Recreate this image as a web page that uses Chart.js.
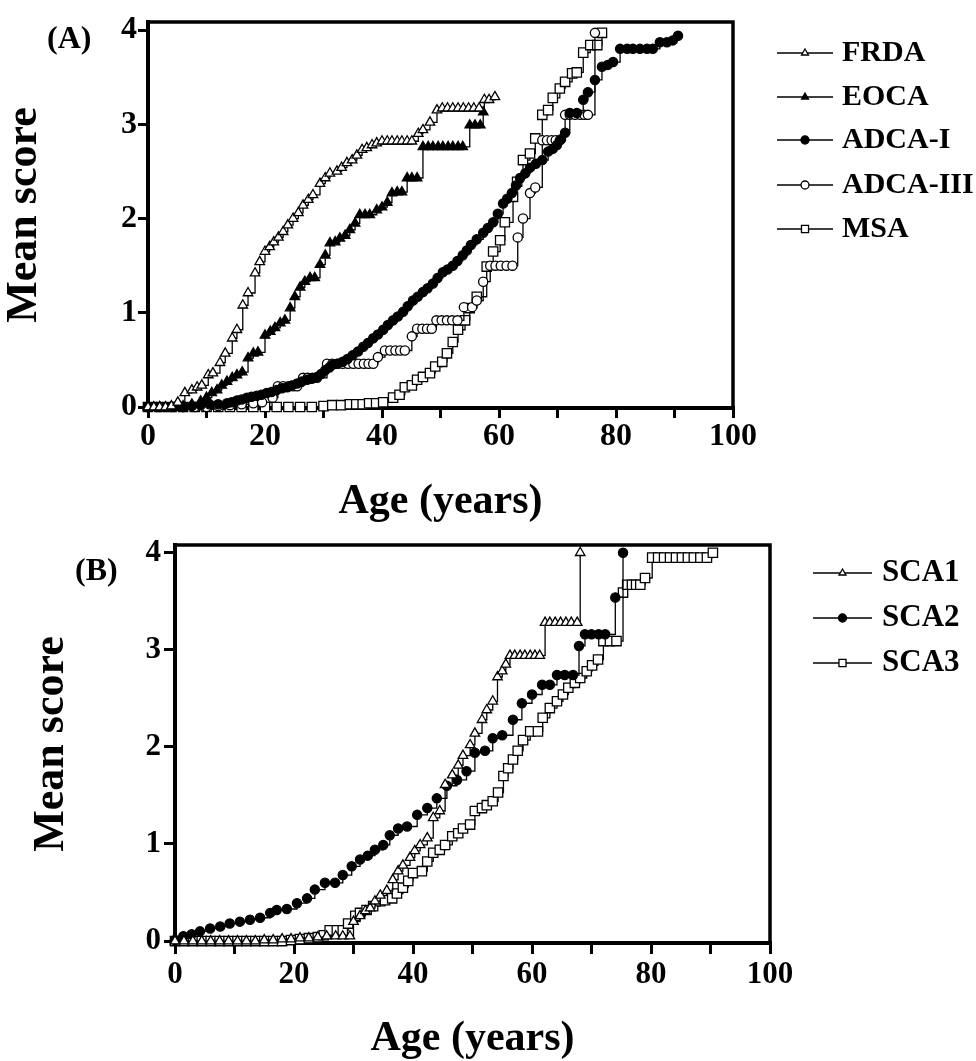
<!DOCTYPE html>
<html>
<head>
<meta charset="utf-8">
<script src="https://cdn.jsdelivr.net/npm/chart.js@4"></script>
<style>
  html, body { margin: 0; padding: 0; background: #fff; }
  #wrap { position: relative; width: 976px; height: 1061px; }
  .panel { position: absolute; left: 0; }
</style>
</head>
<body>
<div id="wrap">
  <canvas id="chartA" class="panel" style="top:0" width="976" height="530"></canvas>
  <canvas id="chartB" class="panel" style="top:530px" width="976" height="531"></canvas>
</div>
<script>
// ---- data: [age, mean score] ----
var frda = [[0,0],[1,0],[2,0],[3,0],[4,0.01],[5.1,0.05],[6.3,0.15],[7.5,0.18],[8.4,0.21],[9.2,0.23],[10.3,0.34],[11.1,0.36],[12.3,0.47],[13.2,0.57],[14.4,0.73],[15.2,0.82],[16.2,1.08],[17.1,1.21],[18.3,1.42],[19.1,1.54],[20,1.65],[20.8,1.70],[21.5,1.75],[22.3,1.80],[23.1,1.86],[23.9,1.93],[24.8,2.00],[25.7,2.06],[26.5,2.14],[27.4,2.20],[28.2,2.25],[29.4,2.37],[30.3,2.43],[31.1,2.48],[32.3,2.50],[33.1,2.54],[34,2.59],[34.9,2.62],[35.7,2.67],[36.6,2.73],[37.4,2.75],[38.3,2.78],[39.1,2.80],[40,2.82],[40.9,2.82],[41.7,2.82],[42.6,2.82],[43.4,2.82],[44.3,2.82],[45.1,2.82],[46.2,2.90],[47,2.94],[48.2,3.02],[49.4,3.15],[50.3,3.17],[51.2,3.17],[52.1,3.17],[53,3.17],[53.9,3.17],[54.8,3.17],[55.7,3.17],[56.6,3.17],[57.5,3.26],[58.3,3.26],[59.3,3.29]];
var eoca = [[0,0],[2,0],[4,0],[6,0.01],[7.5,0.03],[9,0.06],[10,0.1],[10.9,0.15],[11.8,0.18],[12.6,0.23],[13.5,0.27],[14.4,0.31],[15.2,0.34],[16.1,0.37],[17.1,0.52],[18,0.57],[18.8,0.58],[20,0.76],[20.9,0.8],[21.7,0.84],[22.6,0.89],[23.4,0.92],[24.3,1.05],[25.1,1.17],[26,1.27],[26.8,1.33],[27.7,1.37],[28.5,1.37],[29.4,1.51],[30.3,1.61],[31.1,1.74],[32,1.75],[32.8,1.79],[33.7,1.82],[34.5,1.88],[35.4,1.95],[36.2,2.04],[37.1,2.04],[37.9,2.04],[39.1,2.09],[40,2.12],[40.9,2.17],[41.7,2.27],[42.6,2.28],[43.4,2.28],[44.3,2.43],[45.1,2.43],[46,2.43],[47,2.76],[47.9,2.76],[48.7,2.76],[49.6,2.76],[50.4,2.76],[51.3,2.76],[52.1,2.76],[53,2.76],[53.8,2.76],[55,2.99],[55.9,2.99],[56.8,2.99],[57.3,3.13]];
var adca1 = [[0,0],[1.5,0],[3,0],[4.5,0],[6,0],[7.5,0.01],[9,0.02],[10.5,0.03],[12,0.03],[13.5,0.04],[14.3,0.05],[15.2,0.07],[16,0.08],[16.9,0.1],[17.7,0.11],[18.6,0.12],[19.4,0.13],[20.3,0.15],[21.1,0.16],[22,0.18],[22.9,0.2],[23.8,0.21],[24.6,0.23],[25.5,0.25],[26.3,0.27],[27.2,0.29],[28,0.3],[28.9,0.32],[29.6,0.35],[30.3,0.39],[31,0.42],[31.6,0.45],[32.4,0.46],[33.3,0.48],[34.1,0.51],[35,0.55],[35.9,0.59],[36.8,0.64],[37.6,0.68],[38.5,0.73],[39.3,0.77],[40.2,0.82],[41,0.87],[41.9,0.92],[42.7,0.96],[43.6,1.01],[44.4,1.07],[45.3,1.13],[46.1,1.17],[47,1.22],[47.8,1.26],[48.7,1.31],[49.5,1.37],[50.4,1.43],[51.2,1.46],[52.1,1.5],[52.9,1.55],[53.8,1.61],[54.5,1.66],[55.2,1.72],[56.2,1.78],[57.3,1.85],[58.1,1.9],[59,1.96],[59.8,2.05],[60.7,2.16],[61.4,2.21],[62.2,2.27],[62.9,2.35],[63.6,2.43],[64.5,2.48],[65.3,2.54],[66.3,2.58],[67.4,2.62],[68.4,2.71],[69.2,2.74],[69.9,2.78],[70.6,2.84],[71.3,2.91],[72.1,3.12],[73.3,3.12],[74.4,3.26],[75.2,3.34],[76.4,3.47],[77.6,3.61],[78.6,3.63],[79.5,3.66],[80.7,3.8],[81.9,3.8],[82.9,3.8],[84.1,3.8],[85.3,3.8],[86.3,3.8],[87.5,3.87],[88.7,3.87],[89.7,3.89],[90.6,3.94]];
var adca3 = [[0,0],[2,0],[4,0],[6,0],[8,0],[10,0],[12,0.01],[14,0.02],[16,0.03],[18,0.04],[19.5,0.05],[21.3,0.1],[22.2,0.22],[23.1,0.22],[24,0.22],[24.8,0.22],[25.5,0.22],[26.5,0.31],[27.3,0.31],[28.1,0.31],[28.9,0.31],[30.6,0.46],[31.5,0.46],[32.4,0.46],[33.3,0.46],[34.2,0.46],[35.1,0.46],[36,0.46],[36.9,0.46],[37.7,0.46],[38.5,0.46],[39.3,0.53],[40.5,0.6],[41.4,0.6],[42.3,0.6],[43.1,0.6],[43.9,0.6],[45.1,0.75],[46,0.83],[46.9,0.83],[47.7,0.83],[48.5,0.83],[49.3,0.92],[50.2,0.92],[51.1,0.92],[52,0.92],[52.9,0.92],[54,1.06],[55.4,1.06],[56.2,1.13],[57.3,1.33],[58.5,1.5],[59.4,1.5],[60.3,1.5],[61.3,1.5],[62.3,1.5],[63.2,1.8],[64.1,2.0],[65.3,2.27],[66.2,2.33],[67.4,2.83],[68.2,2.83],[69,2.83],[69.7,2.83],[70.4,2.83],[71.3,3.1],[72.1,3.1],[73,3.1],[73.9,3.1],[74.6,3.1],[75.2,3.1],[76.4,3.97]];
var msa = [[0,0],[2,0],[4,0],[6,0],[8,0],[10,0],[12,0],[14,0],[16,0],[18,0],[20,0],[22,0],[24,0],[26,0],[28,0],[30,0.01],[31.5,0.02],[33,0.02],[34.5,0.03],[35.6,0.03],[36.7,0.03],[37.8,0.04],[39,0.04],[40.2,0.05],[41.9,0.1],[43,0.13],[43.9,0.21],[45.1,0.23],[46,0.29],[47,0.32],[48.2,0.36],[49.1,0.43],[50.3,0.48],[51.1,0.57],[52.1,0.69],[53,0.82],[54.2,0.92],[55,1.05],[56.2,1.17],[57.9,1.49],[59,1.65],[60.2,1.77],[61,1.96],[62.4,2.23],[63.1,2.39],[64.1,2.62],[65.3,2.69],[66.2,2.85],[67.4,3.1],[68.4,3.15],[69.2,3.28],[70.4,3.38],[71.3,3.45],[72.5,3.54],[73.3,3.55],[74.4,3.76],[75.6,3.84],[76.8,3.84],[77.6,3.97]];

var sca1 = [[0,0],[1.5,0],[3,0],[4.5,0],[6,0],[7.5,0],[9,0],[10.5,0],[12,0],[13.5,0],[15,0.01],[16.5,0.01],[18,0.02],[19.5,0.02],[21,0.03],[22.5,0.03],[24,0.04],[25.5,0.05],[27,0.05],[28.2,0.05],[29.4,0.05],[30,0.2],[31.1,0.26],[32,0.31],[32.8,0.34],[33.6,0.41],[34.5,0.47],[35.6,0.52],[36.6,0.63],[37.5,0.72],[38.3,0.78],[39.5,0.86],[40.3,0.93],[41.2,0.99],[42.4,1.06],[43.4,1.27],[44.5,1.34],[45.4,1.61],[46.6,1.71],[47.6,1.81],[48.4,1.91],[49.6,2.02],[50.4,2.14],[51.6,2.28],[52.4,2.38],[53.4,2.47],[54.2,2.72],[55,2.78],[55.6,2.85],[56.3,2.94],[57.1,2.94],[58,2.94],[58.8,2.94],[59.7,2.94],[60.5,2.94],[61.3,2.94],[62.2,3.28],[63,3.28],[63.9,3.28],[64.8,3.28],[65.7,3.28],[66.6,3.28],[67.6,3.28],[68.1,4.0]];
var sca2 = [[0,0.01],[1.4,0.05],[2.8,0.07],[4.2,0.1],[5.9,0.13],[7.6,0.15],[9.2,0.18],[10.9,0.2],[12.6,0.22],[14.3,0.24],[16,0.29],[17.1,0.32],[18.8,0.33],[20.5,0.39],[22.2,0.44],[23.5,0.53],[25.2,0.6],[26.9,0.6],[28.2,0.68],[29.7,0.77],[31.1,0.84],[32.4,0.88],[33.6,0.94],[35,0.99],[36.1,1.09],[37.5,1.16],[39,1.18],[40.7,1.3],[42.4,1.37],[44,1.47],[45.7,1.6],[47.4,1.66],[49,1.75],[50.4,1.94],[52.1,1.96],[53.4,2.09],[55,2.12],[56.8,2.28],[58.3,2.45],[60,2.54],[61.7,2.64],[63,2.64],[64.2,2.74],[65.5,2.74],[66.9,2.74],[67.9,3.04],[68.9,3.16],[70,3.16],[71.2,3.16],[72.3,3.16],[74,3.54],[75.3,4.0]];
var sca3 = [[0,0],[1.5,0],[3,0],[4.5,0],[6,0],[7.5,0],[9,0],[10.5,0],[12,0],[13.5,0],[15,0],[16.5,0],[18,0],[19.5,0.01],[21,0.02],[22.5,0.03],[24,0.04],[25,0.06],[26,0.11],[27.2,0.11],[28.2,0.11],[29.1,0.18],[30.3,0.26],[31.1,0.29],[32.2,0.32],[33.3,0.36],[34.5,0.41],[35.3,0.42],[36.5,0.44],[37.3,0.49],[38.3,0.55],[39.2,0.62],[40,0.7],[41.5,0.72],[42.4,0.82],[43.4,0.91],[44.5,0.94],[45.4,0.99],[46.6,1.08],[47.6,1.11],[48.4,1.16],[49.6,1.2],[50.4,1.34],[51.6,1.37],[52.4,1.4],[53.4,1.44],[54.3,1.53],[55.2,1.7],[56,1.78],[56.8,1.87],[57.6,1.96],[58.5,2.07],[59.7,2.16],[61,2.16],[61.8,2.3],[63,2.4],[64.2,2.47],[65.2,2.54],[66.1,2.61],[67.2,2.66],[68.1,2.71],[69.2,2.78],[70.1,2.84],[71.1,2.9],[72,3.09],[73.1,3.09],[74.2,3.09],[75.3,3.59],[76,3.67],[76.8,3.67],[77.5,3.67],[78.2,3.67],[79,3.74],[80.2,3.95],[81.2,3.95],[82.2,3.95],[83.2,3.95],[84.2,3.95],[85.2,3.95],[86.2,3.95],[87.2,3.95],[88.3,3.95],[89.4,3.95],[90.4,4.0]];

var labelsA = ["FRDA", "EOCA", "ADCA-I", "ADCA-III", "MSA"];
var labelsB = ["SCA1", "SCA2", "SCA3"];
var xTicks = [0, 20, 40, 60, 80, 100];

const SERIF = "'Liberation Serif', 'Times New Roman', serif";
const drawPoint = Chart.helpers.drawPoint;

// marker look per series kind
const MARK = {
    openTri:  { pointStyle: "triangle", radius: 5.5, fill: "#fff" },
    fullTri:  { pointStyle: "triangle", radius: 5.5, fill: "#000" },
    fullDot:  { pointStyle: "circle",   radius: 4.6, fill: "#000" },
    openDot:  { pointStyle: "circle",   radius: 4.6, fill: "#fff" },
    openBox:  { pointStyle: "rect",     radius: 6.6, fill: "#fff" },
};

function makeDataset(label, pairs, mark) {
    return {
        label: label,
        data: pairs.map((p) => ({ x: p[0], y: p[1] })),
        stepped: true,
        borderColor: "#000",
        borderWidth: 1.3,
        pointStyle: mark.pointStyle,
        pointRadius: mark.radius,
        pointBackgroundColor: mark.fill,
        pointBorderColor: "#000",
        pointBorderWidth: 1.3,
        clip: false,
        tension: 0,
    };
}

// top + right frame of the plot box
const framePlugin = {
    id: "frame",
    beforeDatasetsDraw(chart) {
        const a = chart.chartArea;
        const ctx = chart.ctx;
        ctx.save();
        ctx.strokeStyle = "#000";
        ctx.lineWidth = 3.5;
        ctx.beginPath();
        ctx.moveTo(a.left, a.top);
        ctx.lineTo(a.right, a.top);
        ctx.lineTo(a.right, a.bottom);
        ctx.stroke();
        ctx.restore();
    }
};

// legend to the right of the box and the (A)/(B) tag
const sideLegend = {
    id: "sideLegend",
    afterDraw(chart, args, opts) {
        const ctx = chart.ctx;
        ctx.save();
        chart.data.datasets.forEach((ds, i) => {
            const y = opts.rows[i];
            ctx.strokeStyle = "#000";
            ctx.lineWidth = 1.3;
            ctx.beginPath();
            ctx.moveTo(opts.x1, y);
            ctx.lineTo(opts.x2, y);
            ctx.stroke();
            ctx.fillStyle = ds.pointBackgroundColor;
            drawPoint(ctx, {
                pointStyle: ds.pointStyle,
                radius: ds.pointStyle === "rect" ? 5 : 4,
                rotation: 0,
                borderWidth: 1.3
            }, (opts.x1 + opts.x2) / 2, y);
            ctx.fillStyle = "#000";
            ctx.font = "bold " + opts.size + "px " + SERIF;
            ctx.textAlign = "left";
            ctx.textBaseline = "middle";
            ctx.fillText(ds.label, opts.tx, y);
        });
        ctx.font = "bold 32px " + SERIF;
        ctx.textAlign = "left";
        ctx.textBaseline = "alphabetic";
        ctx.fillText(opts.tag, opts.tagX, opts.tagY);
        ctx.restore();
    }
};

function makeChart(id, datasets, box) {
    return new Chart(document.getElementById(id), {
        type: "line",
        data: { datasets: datasets },
        plugins: [framePlugin, sideLegend],
        options: {
            responsive: false,
            animation: false,
            events: [],
            layout: { padding: { left: 0, top: box.top, right: box.right, bottom: 0 } },
            plugins: {
                legend: { display: false },
                tooltip: { enabled: false },
                sideLegend: box.legend,
            },
            scales: {
                x: {
                    type: "linear",
                    min: 0,
                    max: 100,
                    afterFit: (s) => { s.height = box.xHeight; s.paddingLeft = 0; s.paddingRight = 0; },
                    ticks: {
                        stepSize: 10,
                        autoSkip: false,
                        maxRotation: 0,
                        padding: box.xTickPad,
                        color: "#000",
                        font: { family: SERIF, size: box.tickSize, weight: "bold" },
                        callback: (v) => xTicks.includes(v) ? String(v) : "",
                    },
                    grid: { drawOnChartArea: false, drawTicks: true, tickLength: box.tickLen, lineWidth: 3, color: "#000" },
                    border: { display: true, width: 4, color: "#000" },
                    title: {
                        display: true,
                        text: "Age (years)",
                        color: "#000",
                        font: { family: SERIF, size: 42, weight: "bold", lineHeight: 1 },
                        padding: { top: 0, bottom: box.xTitlePad },
                    },
                },
                y: {
                    min: box.yMin,
                    max: box.yMax,
                    afterFit: (s) => { s.width = box.yWidth; s.paddingTop = 0; s.paddingBottom = 0; },
                    ticks: {
                        stepSize: 1,
                        includeBounds: false,
                        padding: box.yTickPad,
                        color: "#000",
                        font: { family: SERIF, size: box.tickSize, weight: "bold" },
                    },
                    grid: { drawOnChartArea: false, drawTicks: true, tickLength: box.tickLen, lineWidth: 3, color: "#000" },
                    border: { display: true, width: 4, color: "#000" },
                    title: {
                        display: true,
                        text: "Mean score",
                        color: "#000",
                        font: { family: SERIF, size: 44, weight: "bold", lineHeight: 1 },
                        padding: { top: box.yTitlePad, bottom: 0 },
                    },
                },
            },
        },
    });
}

makeChart("chartA", [
    makeDataset(labelsA[0], frda, MARK.openTri),
    makeDataset(labelsA[1], eoca, MARK.fullTri),
    makeDataset(labelsA[2], adca1, MARK.fullDot),
    makeDataset(labelsA[3], adca3, MARK.openDot),
    makeDataset(labelsA[4], msa, MARK.openBox),
], {
    top: 22, right: 243, xHeight: 122, yWidth: 148,
    yMin: -0.01, yMax: 4.085,
    tickSize: 32, tickLen: 10, xTickPad: 0, yTickPad: 1,
    xTitlePad: 7, yTitlePad: 3,
    legend: { rows: [53, 97, 140, 185, 229], x1: 777, x2: 833, tx: 842, size: 30, tag: "(A)", tagX: 47, tagY: 48 },
});

makeChart("chartB", [
    makeDataset(labelsB[0], sca1, MARK.openTri),
    makeDataset(labelsB[1], sca2, MARK.fullDot),
    makeDataset(labelsB[2], sca3, MARK.openBox),
], {
    top: 15, right: 206, xHeight: 118, yWidth: 175,
    yMin: -0.02, yMax: 4.08,
    tickSize: 31, tickLen: 11, xTickPad: 2, yTickPad: 3,
    xTitlePad: 1, yTitlePad: 30,
    legend: { rows: [43, 88, 133], x1: 813, x2: 872, tx: 882, size: 31, tag: "(B)", tagX: 75, tagY: 50 },
});
</script>
</body>
</html>
